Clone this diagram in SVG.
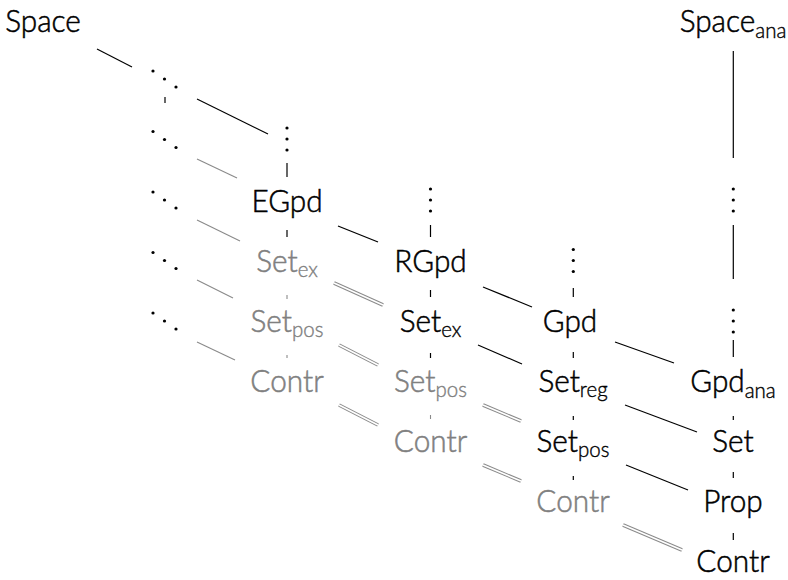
<svg xmlns="http://www.w3.org/2000/svg" width="788" height="580" viewBox="0 0 788 580">
<style>
  text { font-family: Lato, "Liberation Sans", sans-serif; font-size: 32px; font-weight: 300; text-anchor: middle; fill: #000; stroke: #000; stroke-width: 0.55; }
  .gt { fill: #808080; stroke: #808080; }
  .sub { font-size: 22px; stroke-width: 0.4; }
  .d { fill: #000; }
  .k { stroke: #000; stroke-width: 1.2; fill: none; }
  .g { stroke: #8a8a8a; stroke-width: 1.1; fill: none; }
  .dblo { stroke: #8a8a8a; stroke-width: 3.6; fill: none; }
  .dbli { stroke: #fff; stroke-width: 1.6; fill: none; }
</style>
<defs>
  <g id="ddots"><circle cx="-11.5" cy="-8" r="1.6"/><circle cx="0" cy="0" r="1.6"/><circle cx="11.5" cy="8" r="1.6"/></g>
  <g id="vdots"><circle cx="0" cy="-11" r="1.6"/><circle cx="0" cy="0" r="1.6"/><circle cx="0" cy="11" r="1.6"/></g>
</defs>

<g id="connectors">
  <!-- black diagonals -->
  <line class="k" x1="97" y1="49" x2="132" y2="67"/>
  <line class="k" x1="197" y1="99" x2="268" y2="134"/>
  <line class="k" x1="338" y1="226" x2="378" y2="242"/>
  <line class="k" x1="483" y1="287" x2="532" y2="307"/>
  <line class="k" x1="478" y1="345" x2="522" y2="364"/>
  <line class="k" x1="615" y1="342" x2="674" y2="363"/>
  <line class="k" x1="625" y1="405" x2="697" y2="432"/>
  <line class="k" x1="626" y1="465" x2="688" y2="490"/>
  <!-- gray diagonals -->
  <line class="g" x1="197" y1="159" x2="237" y2="178"/>
  <line class="g" x1="197" y1="220" x2="240" y2="241"/>
  <line class="g" x1="197" y1="280" x2="233" y2="298"/>
  <line class="g" x1="197" y1="342" x2="235" y2="360"/>
  <!-- double gray -->
  <g>
    <line class="dblo" x1="334" y1="283" x2="383" y2="305"/>
    <line class="dbli" x1="334" y1="283" x2="383" y2="305"/>
    <line class="dblo" x1="339" y1="345" x2="378" y2="365"/>
    <line class="dbli" x1="339" y1="345" x2="378" y2="365"/>
    <line class="dblo" x1="339" y1="405" x2="378" y2="425"/>
    <line class="dbli" x1="339" y1="405" x2="378" y2="425"/>
    <line class="dblo" x1="483" y1="405" x2="521" y2="421"/>
    <line class="dbli" x1="483" y1="405" x2="521" y2="421"/>
    <line class="dblo" x1="483" y1="465" x2="521" y2="481"/>
    <line class="dbli" x1="483" y1="465" x2="521" y2="481"/>
    <line class="dblo" x1="623" y1="525" x2="682" y2="550"/>
    <line class="dbli" x1="623" y1="525" x2="682" y2="550"/>
  </g>
  <!-- verticals -->
  <line class="k" x1="165" y1="97" x2="165" y2="103"/>
  <line class="k" x1="287" y1="163" x2="287" y2="177"/>
  <line class="k" x1="287" y1="230" x2="287" y2="237"/>
  <line class="g" x1="287" y1="295" x2="287" y2="299"/>
  <line class="g" x1="287" y1="355" x2="287" y2="358"/>
  <line class="k" x1="430.5" y1="225" x2="430.5" y2="237"/>
  <line class="k" x1="430.5" y1="290" x2="430.5" y2="297"/>
  <line class="k" x1="430.5" y1="353" x2="430.5" y2="358"/>
  <line class="g" x1="430.5" y1="415" x2="430.5" y2="419"/>
  <line class="k" x1="573.3" y1="288" x2="573.3" y2="297"/>
  <line class="k" x1="573.3" y1="352" x2="573.3" y2="358"/>
  <line class="k" x1="573.3" y1="416" x2="573.3" y2="420"/>
  <line class="k" x1="573.3" y1="476" x2="573.3" y2="480"/>
  <line class="k" x1="733.3" y1="51" x2="733.3" y2="158"/>
  <line class="k" x1="733.3" y1="225" x2="733.3" y2="279"/>
  <line class="k" x1="733.3" y1="340" x2="733.3" y2="357"/>
  <line class="k" x1="733.3" y1="416" x2="733.3" y2="420"/>
  <line class="k" x1="733.3" y1="472" x2="733.3" y2="478"/>
  <line class="k" x1="733.3" y1="533" x2="733.3" y2="540"/>
</g>

<!-- dots nodes -->
<g id="dd1" class="d"><use href="#ddots" x="164.5" y="79"/></g>
<g id="dd2" class="d"><use href="#ddots" x="164.5" y="139.5"/></g>
<g id="dd3" class="d"><use href="#ddots" x="164.5" y="200"/></g>
<g id="dd4" class="d"><use href="#ddots" x="164.5" y="260.5"/></g>
<g id="dd5" class="d"><use href="#ddots" x="164.5" y="321"/></g>
<g id="vd1" class="d"><use href="#vdots" x="287" y="139"/></g>
<g id="vd2" class="d"><use href="#vdots" x="430.5" y="200"/></g>
<g id="vd3" class="d"><use href="#vdots" x="573.3" y="260.5"/></g>
<g id="vd4a" class="d"><use href="#vdots" x="733.3" y="200"/></g>
<g id="vd4b" class="d"><use href="#vdots" x="733.3" y="321"/></g>

<!-- text nodes -->
<g id="space"><text transform="translate(43,32) scale(0.93,1)">Space</text></g>
<g id="space-ana"><text transform="translate(733,32) scale(0.93,1)">Space<tspan class="sub" dy="6">ana</tspan></text></g>
<g id="egpd"><text transform="translate(287,212) scale(0.93,1)">EGpd</text></g>
<g id="setex1"><text class="gt" transform="translate(287,272) scale(0.93,1)">Set<tspan class="sub" dy="5">ex</tspan></text></g>
<g id="rgpd"><text transform="translate(430.5,272) scale(0.93,1)">RGpd</text></g>
<g id="setpos1"><text class="gt" transform="translate(287,332) scale(0.93,1)">Set<tspan class="sub" dy="5">pos</tspan></text></g>
<g id="setex2"><text transform="translate(430.5,332) scale(0.93,1)">Set<tspan class="sub" dy="5">ex</tspan></text></g>
<g id="gpd"><text transform="translate(570,332) scale(0.93,1)">Gpd</text></g>
<g id="contr1"><text class="gt" transform="translate(287,392) scale(0.93,1)">Contr</text></g>
<g id="setpos2"><text class="gt" transform="translate(430.5,392) scale(0.93,1)">Set<tspan class="sub" dy="5">pos</tspan></text></g>
<g id="setreg"><text transform="translate(573,392) scale(0.93,1)">Set<tspan class="sub" dy="5">reg</tspan></text></g>
<g id="gpd-ana"><text transform="translate(733,392) scale(0.93,1)">Gpd<tspan class="sub" dy="6">ana</tspan></text></g>
<g id="contr2"><text class="gt" transform="translate(430.5,452) scale(0.93,1)">Contr</text></g>
<g id="setpos3"><text transform="translate(573,452) scale(0.93,1)">Set<tspan class="sub" dy="5">pos</tspan></text></g>
<g id="set"><text transform="translate(733,452) scale(0.93,1)">Set</text></g>
<g id="contr3"><text class="gt" transform="translate(573,512) scale(0.93,1)">Contr</text></g>
<g id="prop"><text transform="translate(733,512) scale(0.93,1)">Prop</text></g>
<g id="contr4"><text transform="translate(733,572) scale(0.93,1)">Contr</text></g>
</svg>
